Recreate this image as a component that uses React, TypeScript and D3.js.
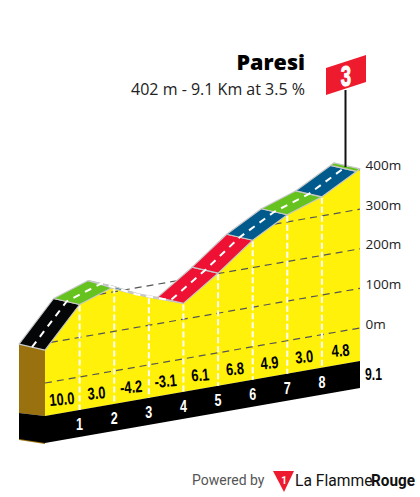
import React from "react";
import * as d3 from "d3";

const stopKm = [0, 1, 2, 3, 4, 5, 6, 7, 8, 9, 9.1];
const stopElevation = [83, 183, 213, 171, 140, 201, 269, 318, 348, 397, 402];
const roadColors = ["#050608", "#66C21E", "#005B8C", "#66C21E", "#EE1133", "#EE1133", "#005B8C", "#66C21E", "#005B8C", "#66C21E"];
const gradientLabels = ["10.0", "3.0", "-4.2", "-3.1", "6.1", "6.8", "4.9", "3.0", "4.8"];
const gradientKm = [0.5, 1.5, 2.5, 3.5, 4.5, 5.5, 6.5, 7.5, 8.55];
const kmTicks = [1, 2, 3, 4, 5, 6, 7, 8];
const elevationTicks = [0, 100, 200, 300, 400];

const TOTAL = 9.1;
const bold = "'Liberation Sans', Arial, sans-serif";
const openSans = "'Open Sans', sans-serif";

const xOf = d3.scaleLinear().domain([0, TOTAL]).range([45, 360]);
const zeroY = d3.scaleLinear().domain([0, TOTAL]).range([383, 328]);
const baseY = d3.scaleLinear().domain([0, TOTAL]).range([416, 361]);
const rise = d3.scaleLinear().domain([0, 400]).range([0, 158.4]);
const elevAt = d3.scaleLinear().domain(stopKm).range(stopElevation);
const yOf = (km: number, e: number) => zeroY(km) - rise(e);
const DX = -26;
const DY = -6;
const BAND = 27;
const ANGLE = (Math.atan2(-55, 315) * 180) / Math.PI;

const line = d3.line<[number, number]>();

function crossingKm(level: number): number | null {
  for (let i = 0; i < stopKm.length - 1; i++) {
    const a = stopElevation[i];
    const b = stopElevation[i + 1];
    if (a <= level && b >= level) return stopKm[i] + ((level - a) / (b - a)) * (stopKm[i + 1] - stopKm[i]);
  }
  return level < stopElevation[0] ? 0 : null;
}

function Narrow(props: { x: number; y: number; size: number; sx: number; angle?: number; fill: string; anchor?: string; children: React.ReactNode }) {
  const { x, y, size, sx, angle = 0, fill, anchor = "middle", children } = props;
  return (
    <text
      transform={`translate(${x} ${y}) rotate(${angle}) scale(${sx} 1)`}
      textAnchor={anchor}
      fontFamily={bold}
      fontWeight={700}
      fontSize={size}
      fill={fill}
    >
      {children}
    </text>
  );
}

export default function App() {
  const front = stopKm.map((k, i) => [xOf(k), yOf(k, stopElevation[i])] as [number, number]);
  const facePts: [number, number][] = [...front, [xOf(TOTAL), baseY(TOTAL)], [xOf(0), baseY(0)]];
  const bandPts: [number, number][] = [
    [xOf(0), baseY(0)],
    [xOf(TOTAL), baseY(TOTAL)],
    [xOf(TOTAL), baseY(TOTAL) + BAND],
    [xOf(0), baseY(0) + BAND],
  ];
  const sideTop: [number, number] = [xOf(0) + DX, front[0][1] + DY];
  const sidePts: [number, number][] = [
    front[0],
    sideTop,
    [xOf(0) + DX, baseY(0) + DY + 3],
    [xOf(0), baseY(0)],
  ];
  const sideBlack: [number, number][] = [
    [xOf(0), baseY(0)],
    [xOf(0) + DX, baseY(0) + DY + 3],
    [xOf(0) + DX, baseY(0) + DY + 3 + BAND - 1],
    [xOf(0), baseY(0) + BAND],
  ];
  const center = front.map((p) => [p[0] + DX / 2, p[1] + DY / 2] as [number, number]);
  return (
    <svg width={420} height={497} style={{ position: "absolute", left: 0, top: 0 }}>
      <path d={line(sidePts)! + "Z"} fill="#99720F" />
      <path d={line(sideBlack.map((p) => [p[0], p[1] + 1]))! + "Z"} fill="#99720F" />
      <path d={line(sideBlack)! + "Z"} fill="#000" />
      <path d={line(facePts)! + "Z"} fill="#FFF10A" />
      <path d={line(bandPts)! + "Z"} fill="#000" />
      {elevationTicks.map((t) => {
        const k = crossingKm(t);
        if (k === null) return null;
        return (
          <line
            key={t}
            x1={xOf(k)}
            y1={yOf(k, t)}
            x2={xOf(TOTAL)}
            y2={yOf(TOTAL, t)}
            stroke="#555"
            strokeWidth={1.2}
            strokeDasharray="7 5"
          />
        );
      })}
      {kmTicks.map((k) => (
        <line
          key={k}
          x1={xOf(k)}
          y1={yOf(k, elevAt(k)) + 1}
          x2={xOf(k)}
          y2={baseY(k)}
          stroke="#fff"
          strokeWidth={2}
          strokeDasharray="6 3"
        />
      ))}
      {roadColors.map((c, i) => {
        const a = front[i];
        const b = front[i + 1];
        const poly: [number, number][] = [a, b, [b[0] + DX, b[1] + DY], [a[0] + DX, a[1] + DY]];
        return <path key={i} d={line(poly)! + "Z"} fill={c} stroke="#C8C8C8" strokeWidth={1.2} strokeLinejoin="round" />;
      })}
      <path d={line(center)!} fill="none" stroke="#fff" strokeWidth={2} strokeDasharray="7 6" />
      <line x1={345.5} y1={90} x2={345.5} y2={yOf(9.05, elevAt(9.05)) - 3} stroke="#111" strokeWidth={2} />
      <path d="M326,68L366,55L366,82L326,95Z" fill="#EE1B2E" />
      <g stroke="#fff" strokeWidth={1}>
        <Narrow x={346} y={86} size={30} sx={0.62} fill="#fff">
          3
        </Narrow>
      </g>
      <text x={305} y={70} textAnchor="end" fontFamily={openSans} fontWeight={800} fontSize={21.5} fill="#000">
        Paresi
      </text>
      <text x={305} y={95} textAnchor="end" fontFamily={openSans} fontSize={16} fill="#222">
        402 m - 9.1 Km at 3.5 %
      </text>
      {elevationTicks.map((t) => (
        <text key={t} x={365.5} y={yOf(TOTAL, t) + 0.5} fontFamily={openSans} fontSize={13.5} fill="#222">
          {t}m
        </text>
      ))}
      <Narrow x={365} y={380} size={17} sx={0.72} anchor="start" fill="#000">
        9.1
      </Narrow>
      {gradientLabels.map((g, i) => (
        <Narrow key={i} x={xOf(gradientKm[i])} y={baseY(gradientKm[i]) - 8} size={17} sx={0.76} angle={ANGLE * 0.5} fill="#000">
          {g}
        </Narrow>
      ))}
      {kmTicks.map((k) => (
        <Narrow key={k} x={xOf(k)} y={baseY(k) + 20} size={17} sx={0.74} fill="#fff">
          {k}
        </Narrow>
      ))}
      <text x={192} y={485} fontFamily="Roboto, sans-serif" fontSize={14} fill="#555">
        Powered by
      </text>
      <path d="M273,471L294,471L284,492Z" fill="#EE1B2E" />
      <text x={284} y={484} textAnchor="middle" fontFamily="Roboto, sans-serif" fontWeight={700} fontSize={10} fill="#fff">
        1
      </text>
      <text transform="translate(295 486) scale(0.92 1)" fontFamily="Roboto, sans-serif" fontSize={17} fill="#111">
        La Flamme
      </text>
      <text transform="translate(371 486) scale(0.9 1)" fontFamily="Roboto, sans-serif" fontWeight={700} fontSize={17} fill="#111">
        Rouge
      </text>
    </svg>
  );
}
